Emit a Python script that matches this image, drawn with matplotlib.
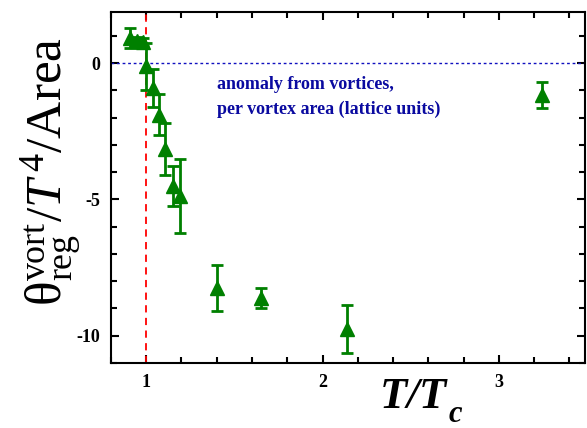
import matplotlib
matplotlib.use('Agg')
import matplotlib.pyplot as plt
from matplotlib.ticker import MultipleLocator

plt.rcParams['font.family'] = ['Liberation Serif', 'DejaVu Serif']
plt.rcParams['mathtext.fontset'] = 'custom'
plt.rcParams['mathtext.rm'] = 'Liberation Serif'
plt.rcParams['mathtext.it'] = 'Liberation Serif:italic'
plt.rcParams['mathtext.bf'] = 'Liberation Serif:bold'
plt.rcParams['mathtext.bfit'] = 'Liberation Serif:italic:bold'
plt.rcParams['axes.unicode_minus'] = False

# T/Tc and anomaly per vortex area
t_tc = [0.909, 0.95, 0.98, 1.0, 1.041, 1.074, 1.108, 1.151, 1.189, 1.40, 1.65, 2.14, 3.242]
anom = [0.93, 0.80, 0.77, -0.12, -0.92, -1.89, -3.15, -4.52, -4.86, -8.24, -8.61, -9.77, -1.16]
err = [0.37, 0.15, 0.15, 0.87, 0.70, 0.75, 0.95, 0.73, 1.36, 0.85, 0.37, 0.88, 0.47]

fig = plt.figure(figsize=(5.87, 4.28), dpi=100)
ax = fig.add_axes([0.189, 0.152, 0.808, 0.82])

ax.axhline(0, color='#1010c0', ls=(0, (2, 2)), lw=1.0)
ax.axvline(1.0, color='r', ls=(0, (4, 3)), lw=1.3)

ax.errorbar(t_tc, anom, yerr=err, fmt='^', color='#008000', ms=10,
            elinewidth=2, capsize=4, capthick=2)

ax.set_xlim(0.8, 3.49)
ax.set_ylim(-11, 1.88)
ax.xaxis.set_major_locator(MultipleLocator(1))
ax.xaxis.set_minor_locator(MultipleLocator(0.2))
ax.yaxis.set_major_locator(MultipleLocator(5))
ax.yaxis.set_minor_locator(MultipleLocator(1))
ax.tick_params(which='both', direction='in', top=True, right=True, width=1.5)
ax.tick_params(which='major', length=6, labelsize=13, pad=8)
ax.tick_params(which='minor', length=4)
for lab in ax.get_xticklabels() + ax.get_yticklabels():
    lab.set_fontweight('bold')
for s in ax.spines.values():
    s.set_linewidth(1.5)

ax.text(1.4, -1.23, 'anomaly from vortices,\nper vortex area (lattice units)',
        color='#0a0aa0', fontsize=13, fontweight='bold', va='center', linespacing=1.6)

fig.text(52 / 587, 1 - 171 / 428,
         r'$\mathrm{θ}^{\rm vort}_{\rm reg}/\mathit{T}^{\,4}/\rm Area$',
         fontsize=37, rotation=90, ha='center', va='center')
ax.text(0.64, -0.04, r'$\mathbfit{T/T}$', transform=ax.transAxes,
        fontsize=32, ha='center', va='top')
ax.text(0.711, -0.168, r'$\mathbfit{c}$', transform=ax.transAxes,
        fontsize=22, ha='left', va='baseline')

fig.savefig('out.png', dpi=100)
